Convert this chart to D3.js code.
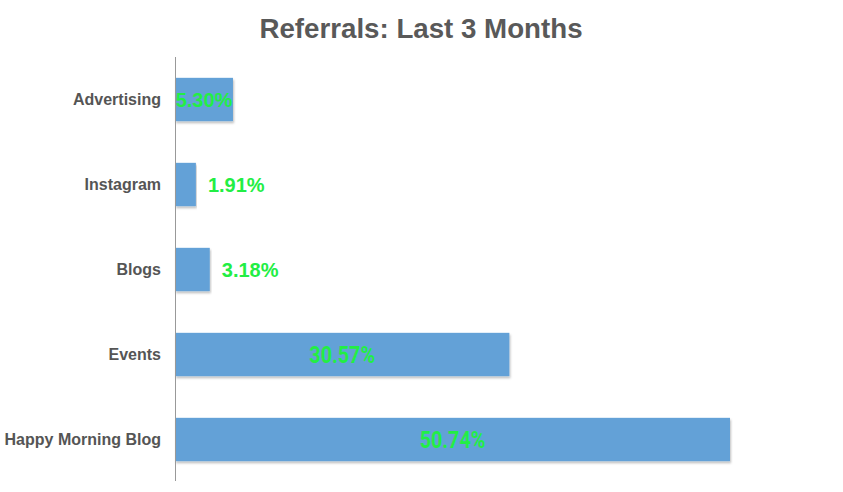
<!DOCTYPE html>
<html lang="en">
<head>
    <meta charset="UTF-8">
    <script src="https://cdn.jsdelivr.net/npm/d3@7"></script>
    <title>Referrals: Last 3 Months</title>
    <style>
        body { margin: 0; background: #fff; }
    </style>
</head>
<body>
</body>
<script>
    // 数据
    const categories = ["Advertising", "Instagram", "Blogs", "Events", "Happy Morning Blog"]
    const values = [5.30, 1.91, 3.18, 30.57, 50.74]
    const valueLabels = ["5.30%", "1.91%", "3.18%", "30.57%", "50.74%"]

    const width = 843
    const height = 492
    const left = 175

    const svg = d3.select("body").append("svg").attr("width", width).attr("height", height)

    // 阴影
    const defs = svg.append("defs")
    const filter = defs.append("filter").attr("id", "shadow")
        .attr("x", "-5%").attr("y", "-10%").attr("width", "110%").attr("height", "130%")
    filter.append("feDropShadow")
        .attr("dx", 1).attr("dy", 2).attr("stdDeviation", 1)
        .attr("flood-color", "#000").attr("flood-opacity", 0.25)

    // 比例尺
    const yScale = d3.scaleBand().domain(categories).range([57, 482])
        .paddingInner(0.49).paddingOuter(0.245)
    const xScale = d3.scaleLinear().domain([0, d3.max(values)]).range([left, 730])

    // 标题
    svg.append("text")
        .attr("x", 421).attr("y", 38)
        .attr("text-anchor", "middle")
        .attr("font-family", "Liberation Sans, Arial, sans-serif")
        .attr("font-weight", "bold")
        .attr("font-size", 27.7)
        .attr("fill", "#595959")
        .text("Referrals: Last 3 Months")

    // 柱子
    svg.selectAll(".bar")
        .data(values)
        .enter()
        .append("rect")
        .attr("class", "bar")
        .attr("x", xScale(0))
        .attr("y", (d, i) => yScale(categories[i]))
        .attr("width", d => xScale(d) - xScale(0))
        .attr("height", yScale.bandwidth())
        .attr("fill", "#64a1d7")
        .attr("filter", "url(#shadow)")

    // y轴
    const yAxis = d3.axisLeft(yScale).tickSize(0).tickPadding(14)
    const gy = svg.append("g").attr("transform", `translate(${left},0)`).call(yAxis)
    gy.select(".domain").attr("stroke", "#999").attr("d", `M0.5,57V481`)
    gy.selectAll("text")
        .attr("font-family", "Liberation Sans, Arial, sans-serif")
        .attr("font-weight", "bold")
        .attr("font-size", 16)
        .attr("fill", "#555")

    // 数值标签
    const labelFont = "Liberation Sans, Arial, sans-serif"
    svg.selectAll(".val")
        .data(values)
        .enter()
        .append("text")
        .attr("class", "val")
        .attr("font-family", labelFont)
        .attr("font-weight", "bold")
        .attr("font-size", 20)
        .attr("fill", "#22ee44")
        .attr("dy", "0.35em")
        .text((d, i) => valueLabels[i])
        .each(function (d, i) {
            const t = d3.select(this)
            const w = this.getComputedTextLength()
            const barW = xScale(d) - xScale(0)
            const cy = yScale(categories[i]) + yScale.bandwidth() / 2
            if (barW >= w) {
                t.attr("text-anchor", "middle").attr("x", (xScale(0) + xScale(d)) / 2).attr("y", cy)
                if (barW > 150) {
                    // 大柱子里的标签字体更窄更高
                    t.attr("font-family", "Roboto, sans-serif").attr("font-size", 23)
                        .attr("x", 0).attr("y", 0)
                        .attr("transform", `translate(${(xScale(0) + xScale(d)) / 2},${cy}) scale(0.86,1)`)
                }
            } else {
                t.attr("text-anchor", "start").attr("x", xScale(d) + 12).attr("y", cy)
            }
        })
</script>
</html>
